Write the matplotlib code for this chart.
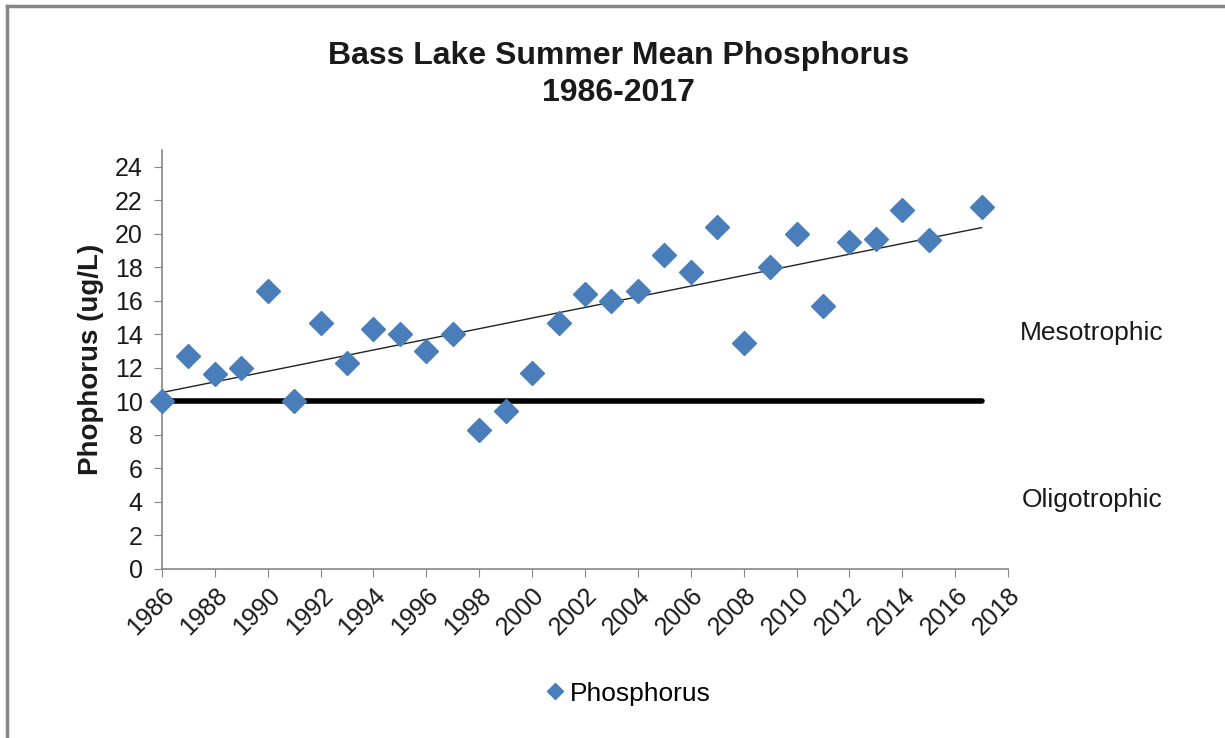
import numpy as np
import matplotlib.pyplot as plt
import matplotlib as mpl
from matplotlib.lines import Line2D

mpl.rcParams["font.family"] = ["Liberation Sans", "DejaVu Sans"]

# ── 데이터 ─────────────────────────────────────────
years = [1986, 1987, 1988, 1989, 1990, 1991, 1992, 1993, 1994, 1995,
         1996, 1997, 1998, 1999, 2000, 2001, 2002, 2003, 2004, 2005,
         2006, 2007, 2008, 2009, 2010, 2011, 2012, 2013, 2014, 2015, 2017]
phos = [10.0, 12.7, 11.6, 12.0, 16.6, 10.0, 14.7, 12.3, 14.3, 14.0,
        13.0, 14.0, 8.3, 9.4, 11.7, 14.7, 16.4, 16.0, 16.6, 18.7,
        17.7, 20.4, 13.5, 18.0, 20.0, 15.7, 19.5, 19.7, 21.4, 19.6, 21.6]
threshold = 10
x_ticks = list(range(1986, 2019, 2))
y_ticks = list(range(0, 25, 2))

BLUE = "#4A7EBB"
GRAY = "#868686"
TXT = "#1a1a1a"

fig = plt.figure(figsize=(12.25, 7.38), dpi=100)
ax = fig.add_axes([0.1322, 0.229, 0.6907, 0.568])

# 추세선
x = np.array(years, dtype=float)
y = np.array(phos)
k, b = np.polyfit(x, y, 1)
xs = np.array([years[0], years[-1]], dtype=float)
ax.plot(xs, k * xs + b, color="#222222", lw=1.0, zorder=2)

# 기준선 (중영양/빈영양 경계)
ax.plot([years[0], years[-1]], [threshold, threshold], color="black",
        lw=4, solid_capstyle="round", zorder=2)

ax.plot(years, phos, "D", color=BLUE, ms=12.5, mec=BLUE, zorder=3,
        clip_on=False)

ax.set_xlim(1986, 2018)
ax.set_ylim(0, 25)
ax.set_xticks(x_ticks)
ax.set_xticklabels([str(t) for t in x_ticks], rotation=45, ha="right",
                   rotation_mode="anchor", fontsize=18)
ax.set_yticks(y_ticks)
ax.set_yticklabels([str(t) for t in y_ticks], fontsize=18)
ax.tick_params(axis="both", direction="out", length=6, color=GRAY,
               labelcolor=TXT)
ax.tick_params(axis="x", pad=4)
ax.tick_params(axis="y", pad=8)

for s in ["top", "right"]:
    ax.spines[s].set_visible(False)
for s in ["left", "bottom"]:
    ax.spines[s].set_color(GRAY)
    ax.spines[s].set_linewidth(1.2)

fig.text(91 / 1225, 1 - 359 / 738, "Phophorus (ug/L)", rotation=90,
         ha="center", va="center", fontsize=20, fontweight="bold", color=TXT)

fig.text(0.505, 0.899, "Bass Lake Summer Mean Phosphorus\n1986-2017",
         ha="center", va="center", fontsize=23, fontweight="bold",
         linespacing=1.3, color=TXT)

ax.text(2018.45, 14.1, "Mesotrophic", fontsize=19, va="center",
        ha="left", color=TXT)
ax.text(2018.5, 4.1, "Oligotrophic", fontsize=19, va="center",
        ha="left", color=TXT)

handle = Line2D([], [], marker="D", ls="none", color=BLUE, ms=8)
fig.legend([handle], ["Phosphorus"], loc="center", bbox_to_anchor=(0.511, 0.06),
           frameon=False, fontsize=19, handletextpad=0.05, handlelength=1.0)

# 바깥 테두리 (왼쪽·위쪽)
fig.add_artist(Line2D([0.0061, 0.0061], [0, 0.992], color=GRAY, lw=2.5,
                      transform=fig.transFigure))
fig.add_artist(Line2D([0.0061, 1], [0.992, 0.992], color=GRAY, lw=2.5,
                      transform=fig.transFigure))

plt.savefig("out.png", dpi=100)
